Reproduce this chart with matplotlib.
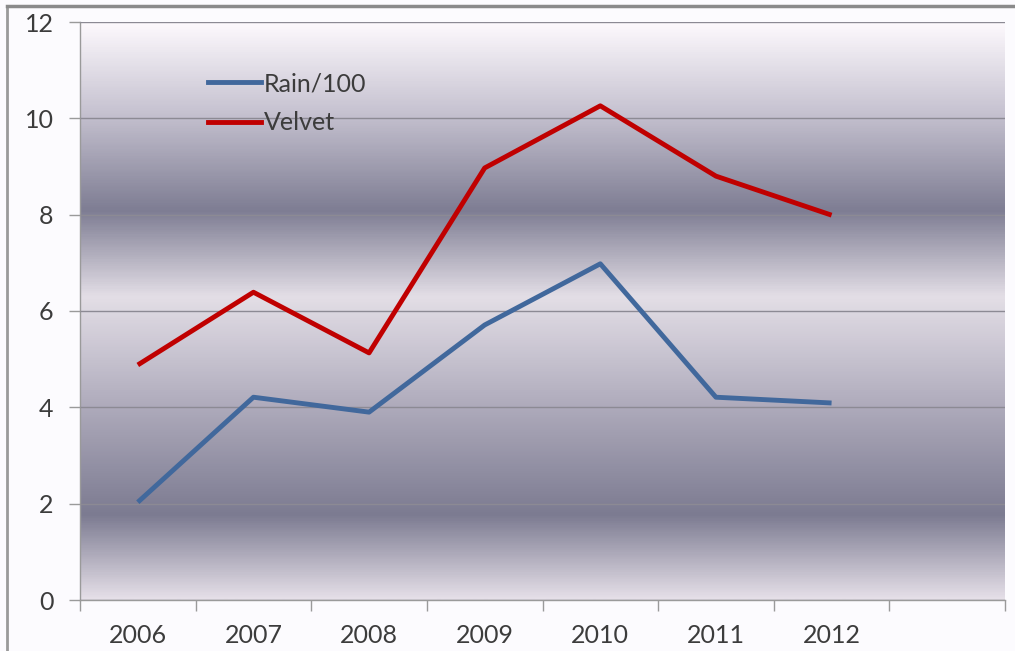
import matplotlib
matplotlib.use("Agg")
import matplotlib.pyplot as plt
import numpy as np
from matplotlib.colors import LinearSegmentedColormap
from matplotlib.lines import Line2D

years = ["2006", "2007", "2008", "2009", "2010", "2011", "2012", ""]
rain_per_100 = [2.03, 4.21, 3.90, 5.71, 6.98, 4.21, 4.09]
velvet = [4.88, 6.39, 5.13, 8.97, 10.26, 8.80, 7.99]

plt.rcParams["font.family"] = ["Lato", "DejaVu Sans"]
text_color = "#3c3c3c"

fig = plt.figure(figsize=(10.15, 6.51), dpi=100, facecolor="#fcfbfe")
ax = fig.add_axes([80 / 1015, 51 / 651, 925 / 1015, 578 / 651])

# banded gradient background (value -> colour)
stops = [
    (0.0, "#e5dfe8"),
    (1.75, "#7c7b91"),
    (4.0, "#aeaabb"),
    (5.0, "#c6c2cf"),
    (6.3, "#e3dee6"),
    (8.1, "#7e7d93"),
    (10.2, "#c8c4d2"),
    (12.0, "#fdf9fd"),
]
cmap = LinearSegmentedColormap.from_list("bands", [(v / 12, c) for v, c in stops])
grad = np.linspace(0, 1, 600).reshape(-1, 1)
ax.imshow(grad, cmap=cmap, aspect="auto", origin="lower",
          extent=(-0.5, 7.5, 0, 12), zorder=0, interpolation="bilinear")

x = np.arange(len(rain_per_100))
ax.plot(x, rain_per_100, color="#41689c", lw=3.5, solid_capstyle="butt", zorder=3)
ax.plot(x, velvet, color="#c00000", lw=3.5, solid_capstyle="butt", zorder=3)

ax.set_xlim(-0.5, 7.5)
ax.set_ylim(0, 12)
ax.set_yticks(np.arange(0, 13, 2))
ax.yaxis.grid(True, color="#8c8a94", lw=1.0, zorder=1)
ax.set_axisbelow(False)
for gl in ax.get_ygridlines():
    gl.set_zorder(1)

ax.set_xticks(np.arange(len(years)))
ax.set_xticklabels(years)
ax.set_xticks(np.arange(-0.5, 8.0, 1), minor=True)
ax.tick_params(axis="x", which="major", length=0, pad=17, labelsize=18, labelcolor=text_color)
ax.tick_params(axis="x", which="minor", length=8, width=1, color="#9a9a9a", direction="out")
ax.tick_params(axis="y", length=8, width=1, color="#9a9a9a", pad=11, labelsize=18, labelcolor=text_color)

for side in ["top", "right"]:
    ax.spines[side].set_visible(False)
for side in ["left", "bottom"]:
    ax.spines[side].set_color("#9a9a9a")
    ax.spines[side].set_linewidth(1)

handles = [
    Line2D([], [], color="#41689c", lw=3.5),
    Line2D([], [], color="#c00000", lw=3.5),
]
ax.legend(handles, ["Rain/100", "Velvet"], loc="upper left",
          bbox_to_anchor=(208 / 1015, 1 - 72 / 651), bbox_transform=fig.transFigure,
          frameon=False, fontsize=18, labelcolor=text_color, handlelength=2.1,
          handletextpad=0.15, labelspacing=0.65, borderpad=0, borderaxespad=0)

# outer chart frame (top and left edges)
fig.add_artist(Line2D([7 / 1015, 7 / 1015], [0, 1 - 6 / 651], transform=fig.transFigure,
                      color="#9a9a9a", lw=2))
fig.add_artist(Line2D([7 / 1015, 1], [1 - 6 / 651, 1 - 6 / 651], transform=fig.transFigure,
                      color="#8a8a8a", lw=2.5))

fig.savefig("out.png", dpi=100, facecolor=fig.get_facecolor())
